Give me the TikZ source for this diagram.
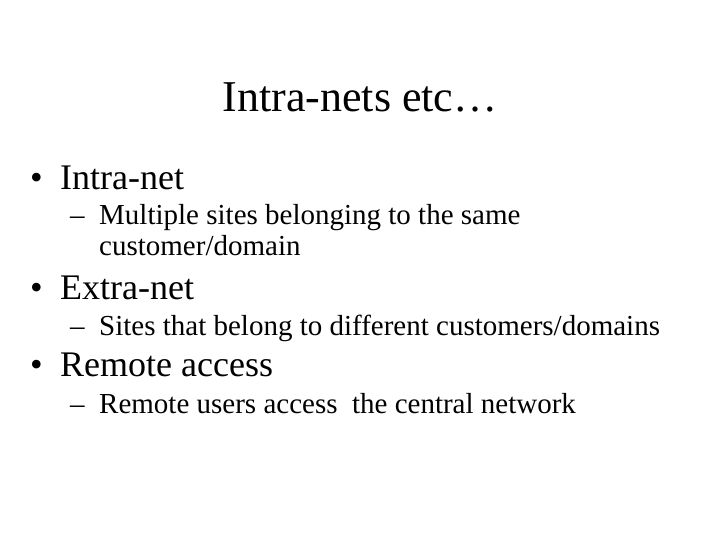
\documentclass[tikz,border=0pt]{standalone}
\usepackage{fontspec}
\setmainfont{Liberation Serif}
\begin{document}
\begin{tikzpicture}[x=1pt,y=-1pt,
  lvlone/.style={anchor=base west,inner sep=0,font=\fontsize{36}{40}\selectfont},
  lvltwo/.style={anchor=base west,inner sep=0,font=\fontsize{29}{33}\selectfont}]
\useasboundingbox (0,0) rectangle (720,540);
\node[anchor=base,inner sep=0,font=\fontsize{44}{50}\selectfont] (title) at (360,112) {Intra-nets etc…};
\node[lvlone] (b1) at (30,190) {•};
\node[lvlone] (t1) at (60,190) {Intra-net};
\node[lvltwo] (d1) at (70,225) {–};
\node[lvltwo] (s1) at (99,225) {Multiple sites belonging to the same};
\node[lvltwo] (s1b) at (99,255) {customer/domain};
\node[lvlone] (b2) at (30,299) {•};
\node[lvlone] (t2) at (60,299) {Extra-net};
\node[lvltwo] (d2) at (70,335) {–};
\node[lvltwo] (s2) at (99,335) {Sites that belong to different customers/domains};
\node[lvlone] (b3) at (30,376) {•};
\node[lvlone] (t3) at (60,376) {Remote access};
\node[lvltwo] (d3) at (70,413) {–};
\node[lvltwo] (s3) at (99,413) {Remote users access\ \ the central network};
\end{tikzpicture}
\end{document}
